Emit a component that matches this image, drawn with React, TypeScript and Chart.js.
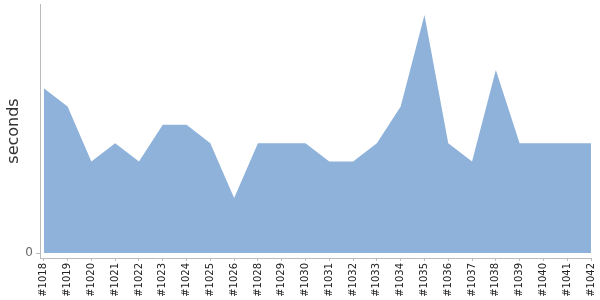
import React, { useEffect, useRef } from "react";
import { Chart, registerables } from "chart.js";

Chart.register(...registerables);

const builds = ["#1018", "#1019", "#1020", "#1021", "#1022", "#1023", "#1024", "#1025", "#1026", "#1028", "#1029", "#1030", "#1031", "#1032", "#1033", "#1034", "#1035", "#1036", "#1037", "#1038", "#1039", "#1040", "#1041", "#1042"];
const seconds = [9, 8, 5, 6, 5, 7, 7, 6, 3, 6, 6, 6, 5, 5, 6, 8, 13, 6, 5, 10, 6, 6, 6, 6];
const yTickValues = [0];

export default function App() {
  const ref = useRef<HTMLCanvasElement>(null);
  useEffect(() => {
    const ctx = ref.current!;
    const chart = new Chart(ctx, {
      type: "line",
      data: {
        datasets: [
          {
            data: seconds.map((v, i) => ({ x: i, y: v })),
            fill: "origin",
            backgroundColor: "#8fb2db",
            borderColor: "#8fb2db",
            borderWidth: 0,
            pointRadius: 0,
            tension: 0,
          },
        ],
      },
      options: {
        animation: false,
        responsive: false,
        maintainAspectRatio: false,
        layout: { padding: { top: 4, right: 9, left: 0, bottom: 0 } },
        plugins: { legend: { display: false }, tooltip: { enabled: false } },
        scales: {
          x: {
            type: "linear",
            min: -0.16,
            max: builds.length - 1,
            afterBuildTicks: (scale: any) => {
              scale.ticks = builds.map((_, i) => ({ value: i }));
            },
            afterFit: (scale: any) => {
              scale.height = 42;
              scale.paddingLeft = 0;
              scale.paddingRight = 0;
            },
            ticks: {
              autoSkip: false,
              minRotation: 90,
              maxRotation: 90,
              padding: 2,
              color: "#222",
              font: { family: "DejaVu Sans", size: 10 },
              callback: (v: any) => builds[v as number] ?? "",
            },
            grid: { drawOnChartArea: false, tickLength: 3, color: "#bbb" },
            border: { display: true, color: "#bbb" },
          },
          y: {
            min: -0.27,
            max: 13.6,
            afterBuildTicks: (scale: any) => {
              scale.ticks = yTickValues.map((v) => ({ value: v }));
            },
            afterFit: (scale: any) => {
              scale.width = 40;
              scale.paddingTop = 0;
              scale.paddingBottom = 0;
            },
            ticks: {
              padding: 3,
              color: "#666",
              font: { family: "DejaVu Sans", size: 12 },
            },
            grid: { drawOnChartArea: false, tickLength: 4, color: "#bbb" },
            border: { display: true, color: "#bbb" },
            title: {
              display: true,
              text: "seconds",
              color: "#333",
              font: { family: "DejaVu Sans", size: 16 },
              padding: { top: 4, bottom: 0 },
            },
          },
        },
      },
    });
    return () => chart.destroy();
  }, []);
  return (
    <div style={{ position: "fixed", left: 0, top: 0, width: 600, height: 300, background: "#fff" }}>
      <canvas ref={ref} width={600} height={300} style={{ display: "block" }} />
    </div>
  );
}
